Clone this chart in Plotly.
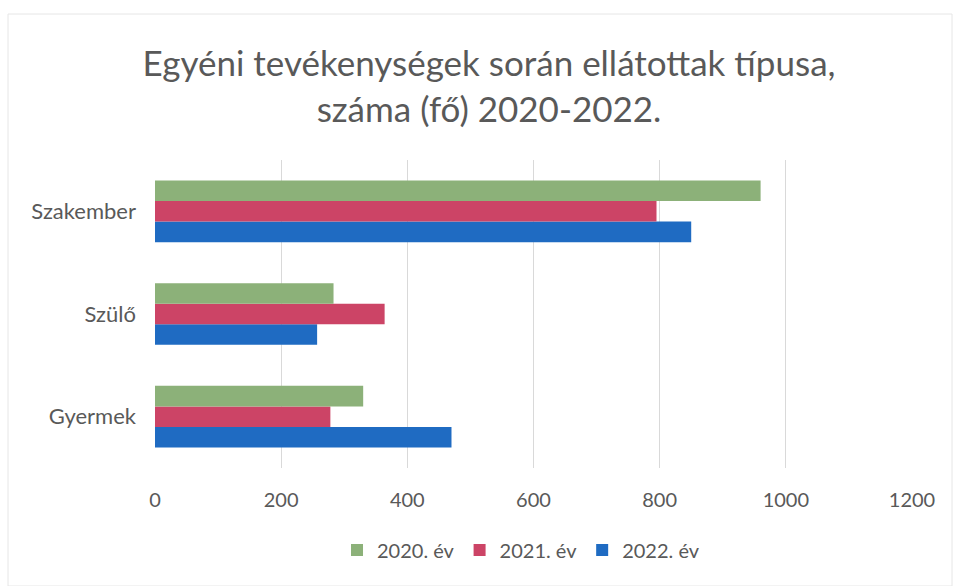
import plotly.graph_objects as go

# Categories (bottom to top on the y axis) and yearly counts (persons)
categories = ["Gyermek", "Szülő", "Szakember"]
years = ["2020. év", "2021. év", "2022. év"]
values_2020 = [330, 283, 960]
values_2021 = [278, 364, 795]
values_2022 = [470, 257, 850]
x_ticks = [0, 200, 400, 600, 800, 1000, 1200]

colors = {"2020. év": "#8cb179", "2021. év": "#cc4466", "2022. év": "#1f6bc2"}
series = {"2020. év": values_2020, "2021. év": values_2021, "2022. év": values_2022}

fig = go.Figure()
# add newest year first so 2020 sits on top of each group
for yr in reversed(years):
    fig.add_trace(go.Bar(
        y=categories, x=series[yr], name=yr, orientation="h",
        marker=dict(color=colors[yr], line=dict(width=0)),
    ))

font_family = "Lato, 'Open Sans', sans-serif"
text_color = "#595959"
fig.update_layout(
    width=955, height=586,
    paper_bgcolor="white", plot_bgcolor="white",
    margin=dict(l=155, r=43, t=160, b=118),
    barmode="group", bargap=0.4, bargroupgap=0,
    font=dict(family=font_family, color=text_color, size=20),
    title=dict(
        text="Egyéni tevékenységek során ellátottak típusa,<br>száma (fő) 2020-2022.",
        x=489 / 955, xanchor="center", y=1 - 76 / 586, yanchor="middle",
        font=dict(size=35, color=text_color, family=font_family),
    ),
    xaxis=dict(
        range=[0, 1200], tickvals=x_ticks, showgrid=True,
        gridcolor="#d9d9d9", gridwidth=1, zeroline=False,
        showline=False, ticks="", ticklabelstandoff=18,
        tickfont=dict(size=20, color=text_color),
    ),
    yaxis=dict(
        categoryorder="array", categoryarray=categories,
        showgrid=False, showline=False, ticks="", ticklen=0,
        ticklabelstandoff=18,
        tickfont=dict(size=22, color=text_color),
    ),
    legend=dict(
        orientation="h", x=0.4835, xanchor="center", y=-0.266, yanchor="middle",
        traceorder="reversed", font=dict(size=20, color=text_color),
        itemwidth=30,
    ),
    showlegend=True,
)

# faint outer chart border
fig.add_shape(type="rect", xref="paper", yref="paper",
              x0=-147 / 757, x1=1 + 40 / 757, y0=-118 / 308, y1=1 + 146 / 308,
              line=dict(color="#e6e6e6", width=1))

fig.write_html("out.html")
